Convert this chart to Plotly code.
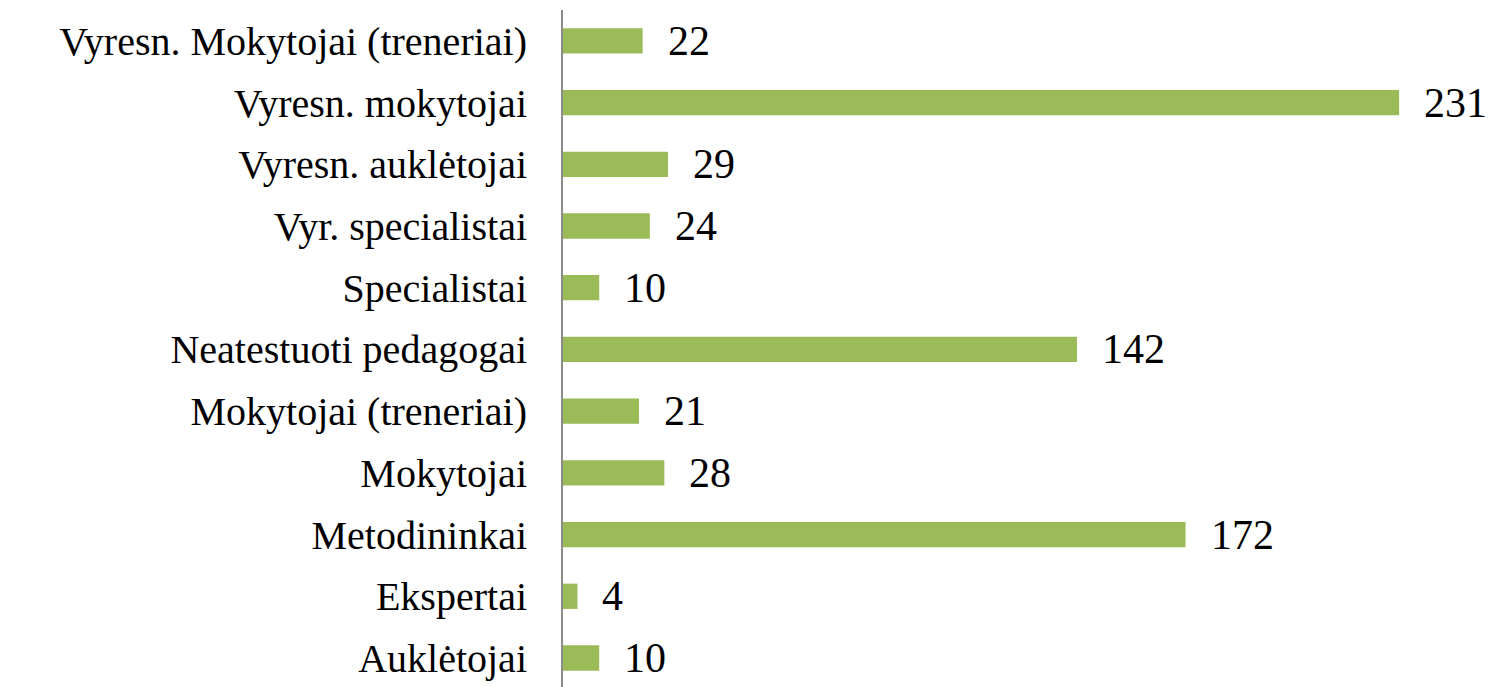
import plotly.graph_objects as go

categories = [
    "Vyresn. Mokytojai (treneriai)",
    "Vyresn. mokytojai",
    "Vyresn. auklėtojai",
    "Vyr. specialistai",
    "Specialistai",
    "Neatestuoti pedagogai",
    "Mokytojai (treneriai)",
    "Mokytojai",
    "Metodininkai",
    "Ekspertai",
    "Auklėtojai",
]
values = [22, 231, 29, 24, 10, 142, 21, 28, 172, 4, 10]

BAR_COLOR = "#9BBB59"
FONT = "Liberation Serif"

fig = go.Figure()
fig.add_trace(go.Bar(
    x=values,
    y=categories,
    orientation="h",
    marker=dict(color=BAR_COLOR, line=dict(width=0)),
    width=0.41,
    hoverinfo="x+y",
))

for c, v in zip(categories, values):
    fig.add_annotation(
        x=v, y=c, text=str(v), showarrow=False,
        xanchor="left", yanchor="middle", xshift=23, yshift=0,
        font=dict(family=FONT, size=42, color="#000000"),
    )

fig.update_layout(
    width=1503, height=687,
    margin=dict(l=563, r=0, t=10, b=0, pad=0, autoexpand=False),
    plot_bgcolor="white", paper_bgcolor="white",
    showlegend=False,
    font=dict(family=FONT, color="#000000"),
)
fig.update_xaxes(visible=False, range=[0, 259.7], fixedrange=True, automargin=False)
fig.update_yaxes(
    type="category",
    categoryorder="array", categoryarray=categories,
    range=[10.47, -0.5],
    automargin=False,
    showline=True, linecolor="#8C8C8C", linewidth=2,
    showgrid=False, zeroline=False, ticks="",
    ticklabelstandoff=26,
    tickfont=dict(family=FONT, size=40, color="#000000"),
)

fig.write_html(
    "out.html",
    config={"displayModeBar": False},
    post_script="document.body.style.margin='0';document.body.style.overflow='hidden';",
)
